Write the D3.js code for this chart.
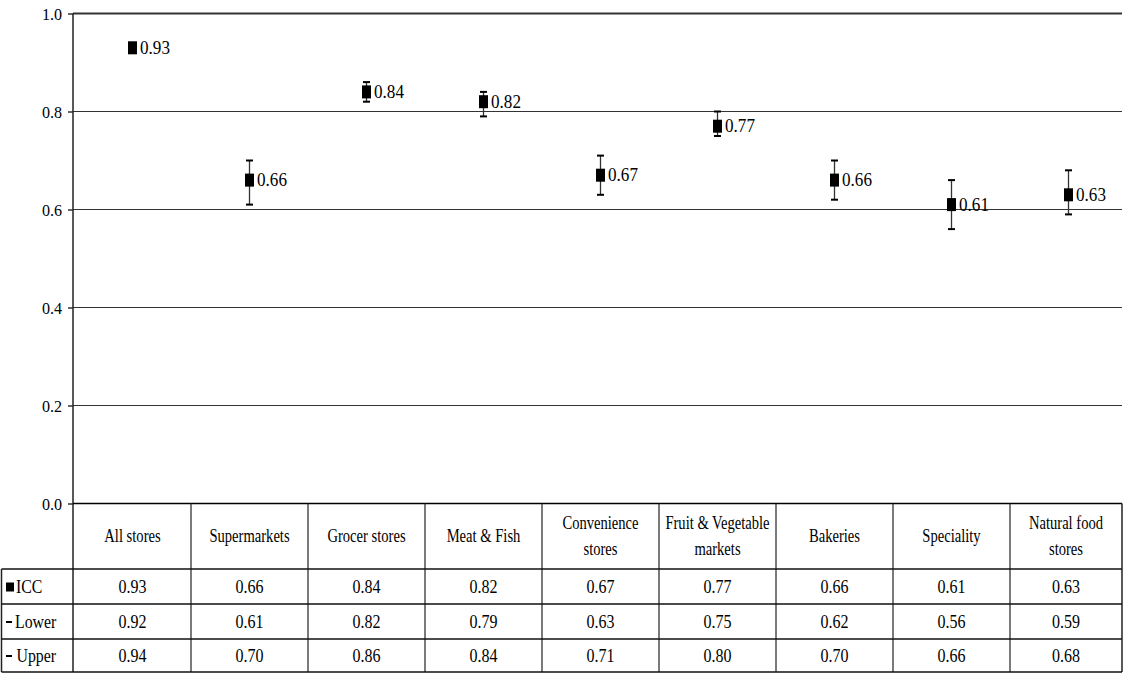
<!DOCTYPE html>
<html>
<head>
<meta charset="utf-8">
<script src="https://cdn.jsdelivr.net/npm/d3@7"></script>
<style>
  html, body { margin: 0; padding: 0; background: #fff; }
  svg { display: block; }
</style>
</head>
<body>
<svg id="chart" width="1123" height="673"></svg>
<script>
// Intraclass correlation by store type, with lower / upper confidence bounds
const categories = ["All stores", "Supermarkets", "Grocer stores", "Meat & Fish",
  "Convenience\nstores", "Fruit & Vegetable\nmarkets", "Bakeries", "Speciality",
  "Natural food\nstores"];
const icc   = [0.93, 0.66, 0.84, 0.82, 0.67, 0.77, 0.66, 0.61, 0.63];
const lower = [0.92, 0.61, 0.82, 0.79, 0.63, 0.75, 0.62, 0.56, 0.59];
const upper = [0.94, 0.70, 0.86, 0.84, 0.71, 0.80, 0.70, 0.66, 0.68];
const yTicks = [0, 0.2, 0.4, 0.6, 0.8, 1.0];
const rowNames = ["ICC", "Lower", "Upper"];

const FONT = "'Liberation Serif'";
const svg = d3.select("#chart");
const plotLeft = 73, plotRight = 1122, plotTop = 13.5, plotBottom = 503.5;
const tableLeft = 1.5;
const headerBottom = 569, rowBottoms = [604, 639, 672];

// the last category column runs past the right edge of the frame
const x = d3.scaleBand().domain(categories).range([74, 1127]);
const y = d3.scaleLinear().domain([0, 1]).range([plotBottom, plotTop]);

// serif face, squeezed horizontally to a narrow set width
function serif(sel, size, k) {
  sel.style("font-family", FONT).style("font-size", size + "px").style("fill", "#000");
  sel.each(function () {
    const w = this.getComputedTextLength();
    d3.select(this).attr("textLength", w * k).attr("lengthAdjust", "spacingAndGlyphs");
  });
}

// gridlines
svg.append("g")
  .selectAll("line")
  .data(yTicks.filter(d => d > 0))
  .join("line")
  .attr("x1", plotLeft).attr("x2", plotRight)
  .attr("y1", d => y(d)).attr("y2", d => y(d))
  .attr("stroke", "#333")
  .attr("stroke-width", d => d === 1 ? 2 : 1.2);

// y axis
const yAxis = svg.append("g")
  .attr("transform", `translate(${plotLeft},0)`)
  .call(d3.axisLeft(y).tickValues(yTicks).tickFormat(d3.format(".1f")).tickSize(5).tickPadding(6));
yAxis.select(".domain").remove();
yAxis.selectAll(".tick line").attr("stroke", "#000").attr("stroke-width", 1.2);
yAxis.selectAll(".tick text").call(serif, 17.5, 0.92);

// vertical axis line through the header row
svg.append("line")
  .attr("x1", plotLeft).attr("x2", plotLeft).attr("y1", plotTop).attr("y2", headerBottom)
  .attr("stroke", "#222").attr("stroke-width", 1.5);

// baseline at 0.0
svg.append("line")
  .attr("x1", plotLeft).attr("x2", plotRight).attr("y1", y(0)).attr("y2", y(0))
  .attr("stroke", "#000").attr("stroke-width", 1.5);

// error bars
const idx = d3.range(categories.length);
const cx = i => x(categories[i]) + x.bandwidth() / 2;
const eb = svg.append("g");
eb.selectAll("line.whisker").data(idx).join("line").attr("class", "whisker")
  .attr("x1", cx).attr("x2", cx)
  .attr("y1", i => y(upper[i])).attr("y2", i => y(lower[i]))
  .attr("stroke", "#333").attr("stroke-width", 1.3);
eb.selectAll("line.capU").data(idx).join("line").attr("class", "capU")
  .attr("x1", i => cx(i) - 3.5).attr("x2", i => cx(i) + 3.5)
  .attr("y1", i => y(upper[i])).attr("y2", i => y(upper[i]))
  .attr("stroke", "#000").attr("stroke-width", 2);
eb.selectAll("line.capL").data(idx).join("line").attr("class", "capL")
  .attr("x1", i => cx(i) - 3.5).attr("x2", i => cx(i) + 3.5)
  .attr("y1", i => y(lower[i])).attr("y2", i => y(lower[i]))
  .attr("stroke", "#000").attr("stroke-width", 2);

// ICC markers
svg.append("g").selectAll("rect").data(idx).join("rect")
  .attr("x", i => cx(i) - 4.5).attr("y", i => y(icc[i]) - 6.5)
  .attr("width", 9).attr("height", 13).attr("fill", "#000");

// value labels
svg.append("g").selectAll("text").data(idx).join("text")
  .attr("x", i => cx(i) + 7.5)
  .attr("y", i => y(icc[i]) + 6)
  .text(i => icc[i].toFixed(2))
  .call(serif, 18, 0.95);

// data table
const tbl = svg.append("g");
// column separators
tbl.selectAll("line.hsep").data(categories.slice(1)).join("line").attr("class", "hsep")
  .attr("x1", d => x(d)).attr("x2", d => x(d))
  .attr("y1", plotBottom).attr("y2", rowBottoms[2])
  .attr("stroke", "#222").attr("stroke-width", 1.2);
// right border
tbl.append("line").attr("x1", plotRight).attr("x2", plotRight)
  .attr("y1", plotBottom).attr("y2", rowBottoms[2]).attr("stroke", "#222").attr("stroke-width", 1.5);
// borders of the row-label column
tbl.append("line").attr("x1", tableLeft).attr("x2", tableLeft)
  .attr("y1", headerBottom).attr("y2", rowBottoms[2]).attr("stroke", "#222").attr("stroke-width", 1.5);
tbl.append("line").attr("x1", plotLeft).attr("x2", plotLeft)
  .attr("y1", headerBottom).attr("y2", rowBottoms[2]).attr("stroke", "#222").attr("stroke-width", 1.5);
// horizontal row lines
tbl.selectAll("line.row").data([headerBottom, ...rowBottoms]).join("line").attr("class", "row")
  .attr("x1", tableLeft).attr("x2", plotRight)
  .attr("y1", d => d).attr("y2", d => d)
  .attr("stroke", "#111").attr("stroke-width", 1.5);

// header labels (last column is centred in its visible part)
const headerMid = (plotBottom + headerBottom) / 2;
categories.forEach((c, i) => {
  const lines = c.split("\n");
  const colMid = i === categories.length - 1 ? (x(c) + plotRight) / 2 : x(c) + x.bandwidth() / 2;
  lines.forEach((ln, k) => {
    tbl.append("text")
      .attr("x", colMid)
      .attr("y", headerMid + 6 + (k - (lines.length - 1) / 2) * 26)
      .attr("text-anchor", "middle")
      .text(ln)
      .call(serif, 18, 0.81);
  });
});

// value rows
const rows = [icc, lower, upper];
const rowTops = [headerBottom, rowBottoms[0], rowBottoms[1]];
const cellMid = i => i === categories.length - 1 ? (x(categories[i]) + plotRight) / 2 : cx(i);
rows.forEach((vals, r) => {
  const mid = (rowTops[r] + rowBottoms[r]) / 2;
  tbl.append("g").selectAll("text").data(idx).join("text")
    .attr("x", cellMid)
    .attr("y", mid + 6)
    .attr("text-anchor", "middle")
    .text(i => vals[i].toFixed(2))
    .call(serif, 18, 0.89);
  // legend key
  if (r === 0) {
    tbl.append("rect").attr("x", 6).attr("y", mid - 4).attr("width", 8).attr("height", 9).attr("fill", "#000");
  } else {
    tbl.append("line").attr("x1", 6).attr("x2", 12).attr("y1", mid + 0.5).attr("y2", mid + 0.5)
      .attr("stroke", "#000").attr("stroke-width", 2);
  }
  tbl.append("text")
    .attr("x", r === 0 ? 16 : r === 1 ? 15 : 16.5)
    .attr("y", mid + 6)
    .text(rowNames[r])
    .call(serif, 18, 0.88);
});
</script>
</body>
</html>
